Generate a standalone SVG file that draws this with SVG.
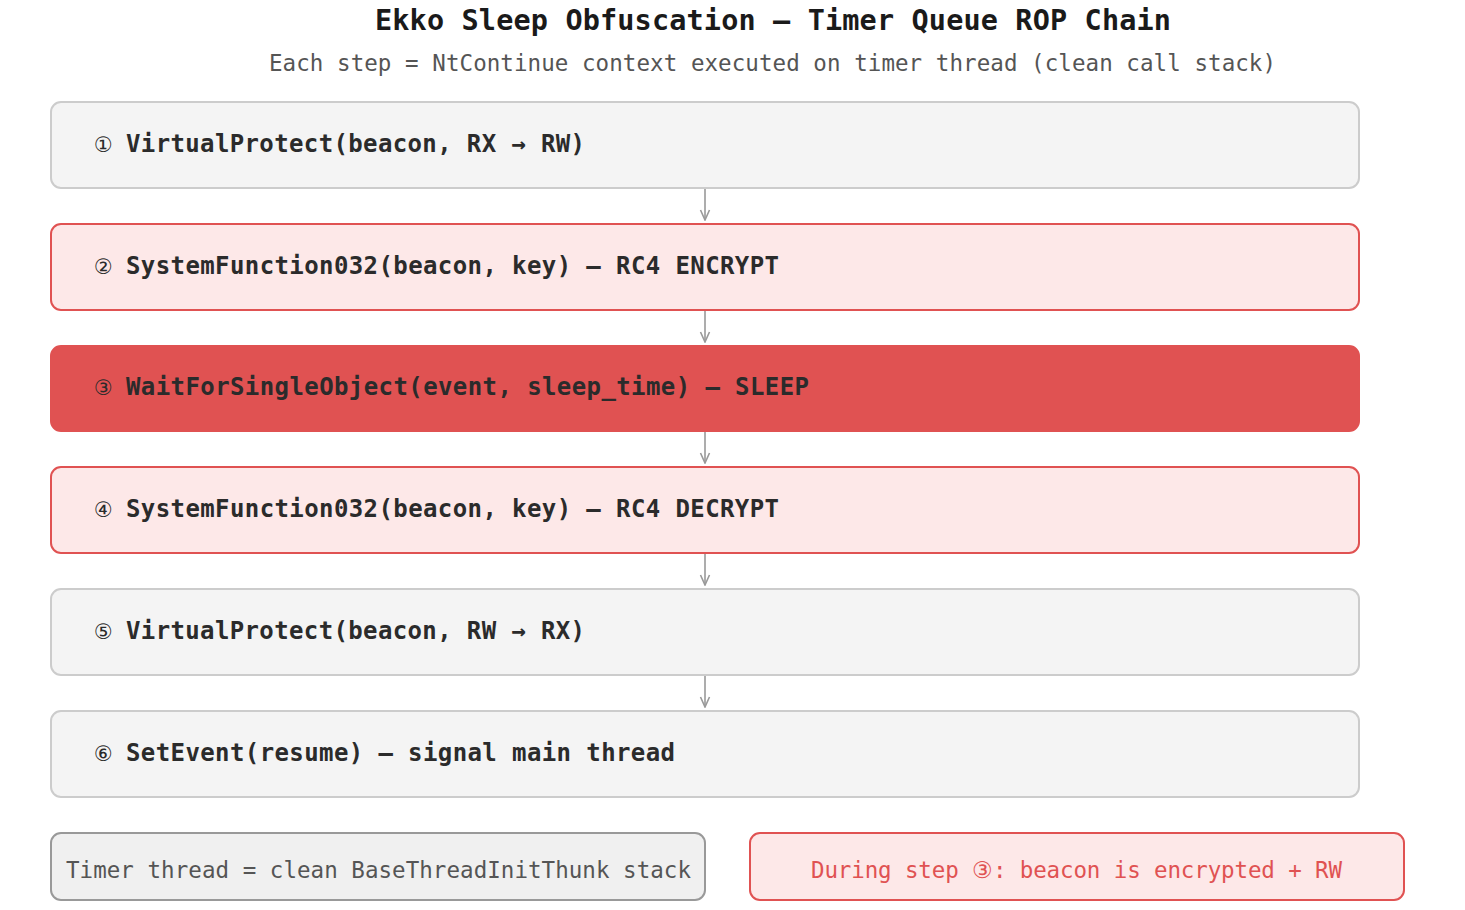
<svg xmlns="http://www.w3.org/2000/svg" width="1465" height="910" viewBox="0 0 1465 910">
  <defs>
    <marker id="arr" viewBox="0 0 12 12" markerWidth="12" markerHeight="12" refX="11" refY="6" orient="auto" markerUnits="userSpaceOnUse">
      <path d="M1,1.5 L11,6 L1,10.5" fill="none" stroke="#999" stroke-width="1.6"/>
    </marker>
    <style>
      .mono { font-family: "DejaVu Sans Mono", "Liberation Mono", monospace; }
      .title { font-size: 28.5px; font-weight: bold; fill: #1a1a1a; }
      .sub { font-size: 22.5px; fill: #555; }
      .lbl { font-size: 24px; font-weight: bold; fill: #2b2b2b; }
      .num { font-family: "DejaVu Sans", "Noto Sans", sans-serif; font-size: 21px; fill: #2b2b2b; }
      .gray rect { fill: #f4f4f4; stroke: #cccccc; stroke-width: 2; }
      .pink rect { fill: #fde8e8; stroke: #e05252; stroke-width: 2; }
      .red rect { fill: #e05252; stroke: #e05252; stroke-width: 2; }
      .conn line { stroke: #999; stroke-width: 1.6; }
      .note { font-size: 22.5px; }
    </style>
  </defs>
  <rect width="1465" height="910" fill="#ffffff"/>

  <text class="mono title" x="773" y="30" text-anchor="middle" textLength="796" lengthAdjust="spacing">Ekko Sleep Obfuscation — Timer Queue ROP Chain</text>
  <text class="mono sub" x="772.5" y="71" text-anchor="middle" textLength="1007" lengthAdjust="spacing">Each step = NtContinue context executed on timer thread (clean call stack)</text>

  <g id="step1" class="gray">
    <rect x="51" y="102" width="1308" height="86" rx="10"/>
    <text class="num" x="94" y="152">①</text>
    <text class="mono lbl" x="126" y="152" textLength="459" lengthAdjust="spacing">VirtualProtect(beacon, RX → RW)</text>
  </g>
  <g id="step2" class="pink">
    <rect x="51" y="224" width="1308" height="86" rx="10"/>
    <text class="num" x="94" y="274">②</text>
    <text class="mono lbl" x="126" y="274" textLength="653" lengthAdjust="spacing">SystemFunction032(beacon, key) — RC4 ENCRYPT</text>
  </g>
  <g id="step3" class="red">
    <rect x="51" y="346" width="1308" height="85" rx="10"/>
    <text class="num" x="94" y="395">③</text>
    <text class="mono lbl" x="126" y="395" textLength="683" lengthAdjust="spacing">WaitForSingleObject(event, sleep_time) — SLEEP</text>
  </g>
  <g id="step4" class="pink">
    <rect x="51" y="467" width="1308" height="86" rx="10"/>
    <text class="num" x="94" y="517">④</text>
    <text class="mono lbl" x="126" y="517" textLength="653" lengthAdjust="spacing">SystemFunction032(beacon, key) — RC4 DECRYPT</text>
  </g>
  <g id="step5" class="gray">
    <rect x="51" y="589" width="1308" height="86" rx="10"/>
    <text class="num" x="94" y="639">⑤</text>
    <text class="mono lbl" x="126" y="639" textLength="459" lengthAdjust="spacing">VirtualProtect(beacon, RW → RX)</text>
  </g>
  <g id="step6" class="gray">
    <rect x="51" y="711" width="1308" height="86" rx="10"/>
    <text class="num" x="94" y="761">⑥</text>
    <text class="mono lbl" x="126" y="761" textLength="549" lengthAdjust="spacing">SetEvent(resume) — signal main thread</text>
  </g>

  <g id="connectors" class="conn">
    <line x1="705" y1="189" x2="705" y2="220" marker-end="url(#arr)"/>
    <line x1="705" y1="311" x2="705" y2="342" marker-end="url(#arr)"/>
    <line x1="705" y1="432" x2="705" y2="463" marker-end="url(#arr)"/>
    <line x1="705" y1="554" x2="705" y2="585" marker-end="url(#arr)"/>
    <line x1="705" y1="676" x2="705" y2="707" marker-end="url(#arr)"/>
  </g>

  <g id="note-left">
    <rect x="51" y="833" width="654" height="67" rx="10" fill="#f0f0f0" stroke="#999999" stroke-width="2"/>
    <text class="mono note" x="378.5" y="878" text-anchor="middle" fill="#555" textLength="625" lengthAdjust="spacing">Timer thread = clean BaseThreadInitThunk stack</text>
  </g>
  <g id="note-right">
    <rect x="750" y="833" width="654" height="67" rx="10" fill="#fde8e8" stroke="#e05252" stroke-width="2"/>
    <text class="mono note" x="1076.5" y="878" text-anchor="middle" fill="#e05252" textLength="531" lengthAdjust="spacing">During step ③: beacon is encrypted + RW</text>
  </g>
</svg>
